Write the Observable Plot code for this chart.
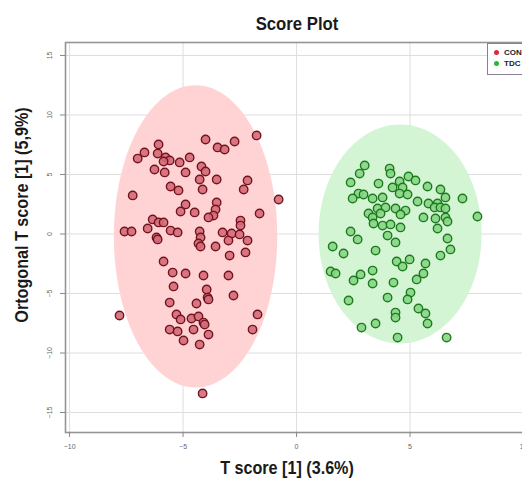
<!DOCTYPE html>
<html>
<head>
<meta charset="utf-8">
<script src="https://cdn.jsdelivr.net/npm/d3@7"></script>
<script src="https://cdn.jsdelivr.net/npm/@observablehq/plot@0.6"></script>
<style>
  html, body { margin: 0; padding: 0; background: #fff; overflow: hidden; }
  #wrap { position: relative; width: 522px; height: 479px; overflow: hidden; }
  #chart { position: absolute; left: 0; top: 0; width: 560px; height: 479px; }
  #chart svg { max-width: none !important; }
  .lbl { position: absolute; font-family: "Liberation Sans", Arial, sans-serif; font-weight: bold; color: #1a1a1a; white-space: nowrap; }
  #legend { position: absolute; left: 487px; top: 43px; width: 60px; height: 30px; border: 1px solid #8a7f96; background: #fff; font-family: "Liberation Sans", Arial, sans-serif; font-size: 8px; font-weight: bold; color: #222; }
  #legend .row { position: absolute; left: 6px; }
  #legend .dot { display: inline-block; width: 5px; height: 5px; border-radius: 50%; margin-right: 5px; vertical-align: middle; }
</style>
</head>
<body>
<div id="wrap">
  <div id="chart"></div>
  <div class="lbl" id="title" style="left:297px;top:24px;font-size:19px;transform:translate(-50%,-50%) scaleX(0.88);">Score Plot</div>
  <div class="lbl" id="xtitle" style="left:287px;top:468px;font-size:19px;transform:translate(-50%,-50%) scaleX(0.85);">T score [1] (3.6%)</div>
  <div class="lbl" id="ytitle" style="left:22px;top:215px;font-size:19px;transform:translate(-50%,-50%) rotate(-90deg) scaleX(0.85);">Ortogonal T score [1] (5,9%)</div>
  <div id="legend">
    <div class="row" style="top:4px;"><span class="dot" style="background:#d9283f"></span>CON</div>
    <div class="row" style="top:15px;"><span class="dot" style="background:#2fb52f"></span>TDC</div>
  </div>
</div>
<script>
// ---- Data ----
const groups = ["CON", "TDC"];

const conX = [-4.01,-1.76,-6.08,-3.48,-3.17,-2.73,-6.70,-7.00,-6.12,-5.77,-5.59,-5.86,-5.15,-4.71,-4.19,-4.01,-6.26,-5.81,-4.89,-4.27,-3.52,-2.16,-5.55,-5.20,-4.14,-2.33,-7.22,-0.79,-3.52,-4.89,-5.11,-4.49,-3.57,-3.66,-3.88,-1.63,-6.34,-6.08,-5.86,-6.56,-2.47,-2.47,-7.58,-7.27,-5.55,-5.24,-4.27,-3.26,-2.86,-2.51,-6.17,-6.12,-4.23,-4.32,-4.23,-3.57,-3.00,-2.16,-2.95,-2.25,-5.86,-5.46,-4.89,-4.10,-3.00,-5.42,-3.96,-3.92,-3.88,-2.78,-5.59,-4.41,-7.80,-5.29,-5.11,-4.63,-4.32,-4.10,-4.05,-1.72,-5.59,-5.24,-4.54,-3.88,-1.94,-4.98,-4.27,-4.14];
const conY = [7.94,8.28,7.52,7.27,7.10,7.77,6.85,6.34,6.76,6.43,6.18,6.09,6.01,6.43,5.67,5.25,5.42,5.17,5.17,4.58,4.58,4.50,3.99,3.66,3.74,3.74,3.24,2.90,2.65,2.48,1.89,1.81,2.06,1.55,1.39,1.72,1.22,0.97,0.97,0.46,1.13,0.71,0.21,0.21,0.29,0.13,0.21,0.13,0.04,-0.04,-0.29,-0.46,-0.29,-0.80,-1.05,-1.05,-0.55,-0.55,-1.81,-1.55,-2.31,-3.24,-3.32,-3.49,-3.49,-4.41,-4.66,-5.34,-5.50,-5.17,-5.76,-5.84,-6.85,-6.76,-7.18,-7.10,-6.93,-7.44,-7.61,-6.76,-8.03,-8.19,-8.03,-8.45,-8.03,-8.95,-9.29,-13.40];

const tdcX = [3.00,2.78,4.10,4.14,2.38,3.61,4.54,4.93,5.24,4.23,4.67,5.77,6.34,2.73,2.95,3.35,2.47,3.79,4.54,4.89,6.56,7.31,5.33,5.81,6.21,3.57,3.92,4.36,4.80,6.08,6.34,6.56,3.17,3.70,4.58,3.35,5.59,6.12,6.56,7.97,3.39,3.79,4.14,4.58,6.21,6.65,2.38,4.01,2.69,4.36,6.65,1.59,3.48,2.07,6.78,6.34,4.41,4.98,4.67,5.68,3.35,1.50,1.72,2.82,2.51,5.59,5.29,3.35,4.27,5.02,4.89,4.01,2.29,5.37,5.68,4.36,4.36,3.48,2.86,5.77,4.45,6.61];
const tdcY = [5.76,5.08,5.50,5.08,4.33,4.24,4.41,4.83,4.50,3.91,3.91,3.99,3.74,3.40,3.32,2.98,2.98,3.07,3.40,3.32,3.07,2.98,2.73,2.56,2.56,2.14,2.23,2.14,1.97,2.23,2.23,2.14,1.72,1.72,1.64,1.39,1.39,1.30,1.39,1.47,0.88,0.71,0.80,0.55,0.46,1.05,0.21,-0.13,-0.46,-0.71,-0.38,-1.05,-1.39,-1.64,-1.30,-1.81,-2.31,-2.14,-2.73,-2.48,-3.07,-3.15,-3.32,-3.40,-3.91,-3.32,-3.82,-4.16,-4.08,-4.92,-5.50,-5.34,-5.59,-6.26,-6.68,-6.60,-7.02,-7.52,-7.86,-7.52,-8.70,-8.70];

// confidence ellipses (center and semi-axes)
const ellipseCx = [-4.45, 4.56];
const ellipseCy = [-0.2, 0.0];
const ellipseRx = [3.6, 3.59];
const ellipseRy = [12.7, 9.2];

const xTicks = [-10, -5, 0, 5, 10];
const yTicks = [-15, -10, -5, 0, 5, 10, 15];

// ---- Build tables ----
const points = [
  ...conX.map((x, i) => ({x, y: conY[i], group: "CON"})),
  ...tdcX.map((x, i) => ({x, y: tdcY[i], group: "TDC"}))
];
const ellipses = groups.map((g, k) => d3.range(0, 361, 3).map(a => {
  const t = a * Math.PI / 180;
  return {x: ellipseCx[k] + ellipseRx[k] * Math.cos(t), y: ellipseCy[k] + ellipseRy[k] * Math.sin(t), group: g};
}));

const fillOf = {CON: "#d46a78", TDC: "#86d686"};
const strokeOf = {CON: "#721420", TDC: "#1d7a1d"};
const ellFill = {CON: "#ffd3d3", TDC: "#d3f5d3"};

const chart = Plot.plot({
  width: 560,
  height: 479,
  marginTop: 42,
  marginBottom: 47,
  marginLeft: 65,
  marginRight: 2,
  style: {background: "transparent", fontFamily: "Liberation Sans, Arial, sans-serif", maxWidth: "none"},
  x: {domain: [-10.18, 11.54]},
  y: {domain: [-16.68, 16.09]},
  marks: [
    Plot.gridX(xTicks, {stroke: "#dedede", strokeOpacity: 1, strokeWidth: 1}),
    Plot.gridY(yTicks, {stroke: "#dedede", strokeOpacity: 1, strokeWidth: 1}),
    ...ellipses.map((e, k) => Plot.line(e, {x: "x", y: "y", fill: ellFill[groups[k]], stroke: "none", curve: "linear-closed"})),
    Plot.dot(points.filter(d => d.group === "CON"), {x: "x", y: "y", r: 4.2, fill: fillOf.CON, stroke: strokeOf.CON, strokeWidth: 1.4, fillOpacity: 0.9}),
    Plot.dot(points.filter(d => d.group === "TDC"), {x: "x", y: "y", r: 4.2, fill: fillOf.TDC, stroke: strokeOf.TDC, strokeWidth: 1.4, fillOpacity: 0.9}),
    Plot.frame({stroke: "#959595", strokeWidth: 1.6}),
    Plot.axisX(xTicks, {tickSize: 5, tickPadding: 7, fontSize: 7, stroke: "#888", color: "#666", label: null}),
    Plot.axisY(yTicks, {tickSize: 5, tickPadding: 9, fontSize: 7, stroke: "#888", color: "#666", tickRotate: -90, label: null})
  ]
});
document.getElementById("chart").appendChild(chart);
</script>
</body>
</html>
